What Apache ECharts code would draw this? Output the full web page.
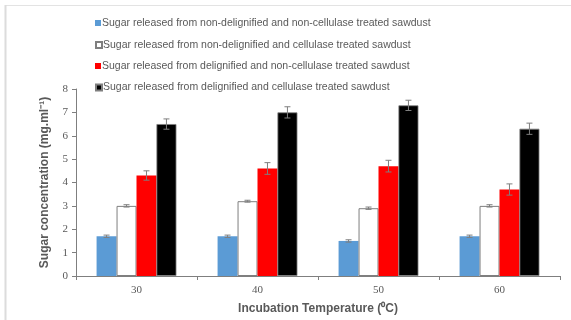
<!DOCTYPE html>
<html>
<head>
<meta charset="utf-8">
<script src="https://cdn.jsdelivr.net/npm/echarts@6/dist/echarts.min.js"></script>
<style>html,body{margin:0;padding:0;background:#fff;}#c{width:571px;height:320px;}</style>
</head>
<body>
<div id="c"></div>
<script>
const categories = ['30', '40', '50', '60'];
const seriesNames = [
  'Sugar released from non-delignified and non-cellulase treated sawdust',
  'Sugar released from non-delignified and cellulase treated sawdust',
  'Sugar released from delignified and non-cellulase treated sawdust',
  'Sugar released from delignified and cellulase treated sawdust'
];
const blueValues = [1.7, 1.7, 1.5, 1.7];
const whiteValues = [3.0, 3.2, 2.9, 3.0];
const redValues = [4.3, 4.6, 4.7, 3.7];
const blackValues = [6.5, 7.0, 7.3, 6.3];
const blueErr = [0.05, 0.05, 0.05, 0.05];
const whiteErr = [0.05, 0.04, 0.05, 0.05];
const redErr = [0.2, 0.25, 0.25, 0.24];
const blackErr = [0.22, 0.24, 0.22, 0.24];
const yTicks = [0, 1, 2, 3, 4, 5, 6, 7, 8];

const values = [blueValues, whiteValues, redValues, blackValues];
const errs = [blueErr, whiteErr, redErr, blackErr];
const styles = [
  {color: '#5b9bd5'},
  {color: '#ffffff', borderColor: '#7f7f7f', borderWidth: 1},
  {color: '#ff0000'},
  {color: '#000000', borderColor: '#7f7f7f', borderWidth: 0.8}
];
const gapPct = 0.34;

const chart = echarts.init(document.getElementById('c'));
const series = [];
values.forEach((v, i) => {
  series.push({
    name: seriesNames[i], type: 'bar', data: v,
    barGap: 0, barCategoryGap: '34%',
    itemStyle: styles[i], z: 2
  });
});
values.forEach((v, i) => {
  series.push({
    type: 'custom', z: 5, silent: true,
    data: v.map((val, k) => [k, val, errs[i][k]]),
    renderItem: function (params, api) {
      const band = api.size([1, 0])[0];
      const bw = band * (1 - gapPct) / 4;
      const c = api.value(0), val = api.value(1), e = api.value(2);
      const top = api.coord([c, val + e]);
      const bot = api.coord([c, val - e]);
      const x = top[0] + (i - 1.5) * bw;
      const hw = 3;
      const st = {stroke: '#7f7f7f', lineWidth: 1};
      return {type: 'group', children: [
        {type: 'line', shape: {x1: x, y1: top[1], x2: x, y2: bot[1]}, style: st},
        {type: 'line', shape: {x1: x - hw, y1: top[1], x2: x + hw, y2: top[1]}, style: st},
        {type: 'line', shape: {x1: x - hw, y1: bot[1], x2: x + hw, y2: bot[1]}, style: st}
      ]};
    }
  });
});

const legendTops = [12.5, 34.5, 55.5, 77];
const legends = seriesNames.map((n, i) => ({
  data: [n], left: 90, top: legendTops[i], orient: 'vertical',
  itemWidth: 6, itemHeight: 6, itemGap: 0, selectedMode: false,
  icon: 'rect',
  textStyle: {fontFamily: 'Liberation Sans, Arial', fontSize: 10.5, color: '#595959', padding: [0, 0, 0, -4]}
}));

chart.setOption({
  animation: false,
  backgroundColor: '#ffffff',
  legend: legends,
  grid: {left: 76, right: 11, top: 89, bottom: 39, containLabel: false},
  xAxis: {
    type: 'category', data: categories,
    name: 'Incubation Temperature (⁰C)', nameLocation: 'middle', nameGap: 27,
    nameTextStyle: {fontFamily: 'Liberation Sans, Arial', fontWeight: 'bold', fontSize: 12, color: '#595959'},
    axisLine: {lineStyle: {color: '#7f7f7f', width: 1}},
    axisTick: {show: true, length: 4, lineStyle: {color: '#7f7f7f'}},
    axisLabel: {fontFamily: 'Liberation Serif, serif', fontSize: 11, color: '#595959', margin: 9}
  },
  yAxis: {
    type: 'value', min: 0, max: 8, interval: 1,
    name: 'Sugar concentration (mg.ml⁻¹)', nameLocation: 'middle', nameGap: 25,
    nameTextStyle: {fontFamily: 'Liberation Sans, Arial', fontWeight: 'bold', fontSize: 12, color: '#595959'},
    axisLine: {show: true, lineStyle: {color: '#7f7f7f', width: 1}},
    axisTick: {show: true, length: 4, lineStyle: {color: '#7f7f7f'}},
    splitLine: {show: false},
    axisLabel: {fontFamily: 'Liberation Serif, serif', fontSize: 11, color: '#595959', margin: 8,
      formatter: function (v) { return yTicks.indexOf(v) >= 0 ? String(v) : ''; }}
  },
  graphic: [
    {type: 'line', shape: {x1: 5, y1: 5.5, x2: 571, y2: 5.5}, style: {stroke: '#e3e3e3', lineWidth: 1}, silent: true},
    {type: 'line', shape: {x1: 5.5, y1: 5, x2: 5.5, y2: 320}, style: {stroke: '#dcdcdc', lineWidth: 2}, silent: true}
  ],
  series: series
});
</script>
</body>
</html>
